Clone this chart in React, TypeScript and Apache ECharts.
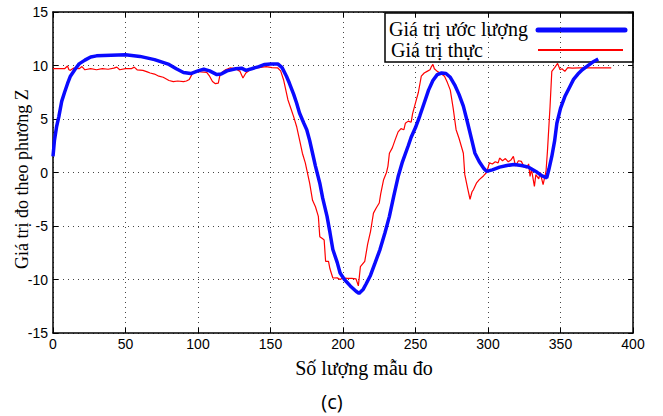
import React, { useEffect, useRef } from "react";
import * as echarts from "echarts";

// Estimated Z value (thick blue) sampled at measurement index
const estX = [0, 1, 2.5, 4, 6, 8, 10, 12, 15, 18, 22, 26, 30, 40, 50, 60, 70, 80, 85, 90, 95, 100, 104, 108, 113, 116, 120, 126, 130, 133, 137, 142, 146, 150, 155, 158, 161, 163, 166, 168, 170, 173, 175, 177, 179, 181, 184, 186, 189, 191, 193, 196, 198, 201, 205, 209, 211, 214, 216, 219, 222, 225.5, 229, 232, 235, 238, 241, 245, 247, 250, 253, 256, 259, 262, 265, 268, 271, 274, 277, 280, 283, 286, 288.7, 291, 294, 297, 299, 303, 308, 313, 318, 323, 328, 333, 337, 340.5, 342, 344, 346, 347.5, 350, 353, 356, 359, 362, 365, 368, 372, 376];
const estY = [1.5, 3.0, 4.3, 5.2, 6.65, 7.5, 8.3, 9.0, 9.6, 10.15, 10.5, 10.8, 10.9, 10.95, 11.0, 10.85, 10.55, 10.1, 9.7, 9.35, 9.25, 9.5, 9.65, 9.5, 9.15, 9.2, 9.5, 9.7, 9.75, 9.55, 9.7, 9.9, 10.1, 10.15, 10.15, 9.8, 9.0, 8.36, 7.3, 6.5, 5.56, 4.6, 4.0, 3.0, 1.8, 0.6, -1.0, -2.4, -4.1, -5.6, -7.2, -8.4, -9.4, -10.0, -10.6, -11.1, -11.3, -10.9, -10.4, -9.6, -8.5, -7.2, -5.6, -4.1, -2.2, -0.4, 1.0, 2.5, 3.3, 4.2, 5.3, 6.5, 7.7, 8.6, 9.15, 9.3, 9.25, 8.9, 8.2, 7.3, 6.2, 4.6, 3.1, 1.8, 1.0, 0.4, 0.1, 0.25, 0.5, 0.65, 0.75, 0.65, 0.5, 0.1, -0.3, -0.5, 0.3, 1.5, 3.0, 4.6, 6.0, 7.1, 7.9, 8.7, 9.2, 9.6, 9.9, 10.3, 10.6];

// Measured Z value (thin red)
const realX = [0, 5, 8, 10, 11, 12, 14, 18, 20, 22, 26, 30, 34, 38, 42, 44, 46, 50, 54, 56, 58, 62, 65, 67, 70, 73, 76, 80, 83, 86, 90, 92, 94, 96, 99, 102, 106, 108, 110, 112, 114, 115, 116, 119, 122, 126, 129, 131, 133, 136, 138, 142, 147, 151, 155, 157, 159, 162, 164, 166, 168, 170, 172, 174, 175, 177, 179, 181, 183, 184, 186, 187, 188, 190, 191, 193, 196, 198, 200, 203, 206, 209, 210.6, 212, 215, 217, 219, 221, 223, 225, 226, 228, 230, 231, 232, 234, 236, 238, 240, 242, 243, 245, 247, 248, 250, 252, 254, 256, 258, 260, 261, 262, 263, 265, 267, 270, 272, 274, 276, 278, 280, 283, 284, 286, 287.6, 289, 290, 292, 294, 297, 299, 301, 303, 305, 307, 308, 310, 312, 314, 316, 317.5, 319, 321, 323, 325, 326.7, 328, 329, 330, 332, 333, 335, 336, 338, 340, 341, 342.8, 344, 346, 348, 349.7, 351, 353, 355, 358, 363, 370, 378, 385];
const realY = [9.7, 9.7, 9.7, 9.95, 9.6, 9.55, 9.75, 9.7, 9.9, 9.6, 9.7, 9.6, 9.7, 9.65, 9.75, 9.85, 9.6, 9.7, 9.7, 9.85, 9.6, 9.55, 9.4, 9.3, 9.2, 9.0, 8.9, 8.6, 8.5, 8.55, 8.5, 8.55, 8.7, 9.2, 9.45, 9.4, 9.35, 9.0, 8.5, 8.3, 8.36, 9.0, 9.3, 9.6, 9.77, 9.7, 9.45, 8.83, 9.3, 9.6, 9.77, 9.8, 9.9, 9.8, 9.77, 9.5, 8.67, 6.8, 6.0, 5.2, 4.3, 3.07, 1.8, 0.9, 0.26, -1.0, -2.6, -3.2, -4.1, -6.0, -6.2, -6.3, -8.3, -8.3, -9.0, -9.86, -9.85, -10.0, -9.85, -9.9, -9.9, -9.95, -10.6, -8.8, -8.3, -6.7, -5.5, -3.8, -3.3, -2.85, -2.0, -0.67, 0.0, 0.6, 1.8, 2.3, 3.07, 3.8, 4.1, 4.0, 4.6, 4.8, 4.7, 5.5, 6.5, 7.5, 9.0, 9.3, 9.45, 9.6, 9.9, 10.1, 9.7, 9.45, 9.3, 9.0, 8.4, 7.7, 6.0, 4.0, 3.2, 1.8, -0.2, -1.5, -2.5, -1.8, -1.6, -1.0, -0.67, -0.3, 0.0, 0.9, 0.8, 1.0, 0.9, 1.35, 1.1, 1.3, 1.0, 1.2, 1.5, 0.6, 1.1, 1.04, 0.5, 0.42, 0.8, -0.36, 0.3, -1.3, -0.2, -0.6, 0.0, -1.14, 0.1, 2.0, 6.2, 9.45, 9.8, 10.2, 9.6, 9.7, 9.45, 9.8, 9.75, 9.77, 9.77, 9.77, 9.77];

const xTicks = { min: 0, max: 400, interval: 50 };
const yTicks = { min: -15, max: 15, interval: 5 };

const seriesNames = ["Giá trị ước lượng", "Giá trị thực"];
const xTitle = "Số lượng mẫu đo";
const yTitle = "Giá trị đo theo phương Z";
const caption = "(c)";

const zip = (xs: number[], ys: number[]) => xs.map((x, i) => [x, ys[i]]);

const SERIF = "'Liberation Serif', 'DejaVu Serif', serif";
const SANS = "'Liberation Sans', Arial, sans-serif";

export default function App() {
  const ref = useRef<HTMLDivElement>(null);

  useEffect(() => {
    document.body.style.margin = "0";
    const chart = echarts.init(ref.current!, null, { renderer: "svg" });

    const grid = { left: 53, right: 30, top: 12, bottom: 83 };
    const gridLine = { show: true, lineStyle: { color: "#444", type: [1, 4] as any, width: 1 } };
    const axisLine = { show: true, onZero: false, lineStyle: { color: "#000", width: 1.5 } };
    const tick = { show: true, inside: true, length: 5, lineStyle: { color: "#000", width: 1 } };

    chart.setOption({
      animation: false,
      backgroundColor: "#fff",
      grid,
      xAxis: [
        {
          type: "value",
          ...xTicks,
          axisLine,
          axisTick: tick,
          splitLine: gridLine,
          axisLabel: { color: "#000", fontFamily: SANS, fontSize: 14, margin: 4 },
        },
        {
          type: "value",
          position: "top",
          ...xTicks,
          axisLine,
          axisTick: tick,
          splitLine: { show: false },
          axisLabel: { show: false },
        },
      ],
      yAxis: [
        {
          type: "value",
          ...yTicks,
          axisLine,
          axisTick: tick,
          splitLine: gridLine,
          axisLabel: { color: "#000", fontFamily: SANS, fontSize: 14, margin: 5 },
        },
        {
          type: "value",
          position: "right",
          ...yTicks,
          axisLine,
          axisTick: tick,
          splitLine: { show: false },
          axisLabel: { show: false },
        },
      ],
      series: [
        {
          name: seriesNames[1],
          type: "line",
          data: zip(realX, realY),
          showSymbol: false,
          lineStyle: { color: "#ff0000", width: 1.2 },
          z: 2,
        },
        {
          name: seriesNames[0],
          type: "line",
          data: zip(estX, estY),
          showSymbol: false,
          lineStyle: { color: "#0a0aff", width: 3.5 },
          z: 3,
        },
      ],
      graphic: [
        // legend box with line samples on the right
        {
          type: "group",
          z: 100,
          children: [
            {
              type: "rect",
              shape: { x: 385, y: 13, width: 248, height: 49 },
              style: { fill: "#fff", stroke: "#000", lineWidth: 1.5 },
            },
            {
              type: "text",
              x: 389,
              y: 29,
              style: { text: seriesNames[0], font: `20px ${SERIF}`, fill: "#000", verticalAlign: "middle" },
            },
            {
              type: "line",
              shape: { x1: 538, y1: 30, x2: 625, y2: 30 },
              style: { stroke: "#0a0aff", lineWidth: 5, lineCap: "round" },
            },
            {
              type: "text",
              x: 391,
              y: 50,
              style: { text: seriesNames[1], font: `20px ${SERIF}`, fill: "#000", verticalAlign: "middle" },
            },
            {
              type: "line",
              shape: { x1: 538, y1: 50, x2: 623, y2: 50 },
              style: { stroke: "#ff0000", lineWidth: 2 },
            },
          ],
        },
        {
          type: "text",
          x: 364,
          y: 368,
          style: { text: xTitle, font: `20px ${SERIF}`, fill: "#000", align: "center", verticalAlign: "middle" },
        },
        {
          type: "text",
          x: 22,
          y: 179,
          rotation: Math.PI / 2,
          style: { text: yTitle, font: `18px ${SERIF}`, fill: "#000", align: "center", verticalAlign: "middle" },
        },
        {
          type: "text",
          x: 332,
          y: 401,
          style: { text: caption, font: `20px 'Open Sans', ${SANS}`, fill: "#000", align: "center", verticalAlign: "middle" },
        },
      ],
    });

    return () => chart.dispose();
  }, []);

  return (
    <div
      ref={ref}
      style={{ position: "absolute", left: 0, top: 0, width: 663, height: 416 }}
    />
  );
}
